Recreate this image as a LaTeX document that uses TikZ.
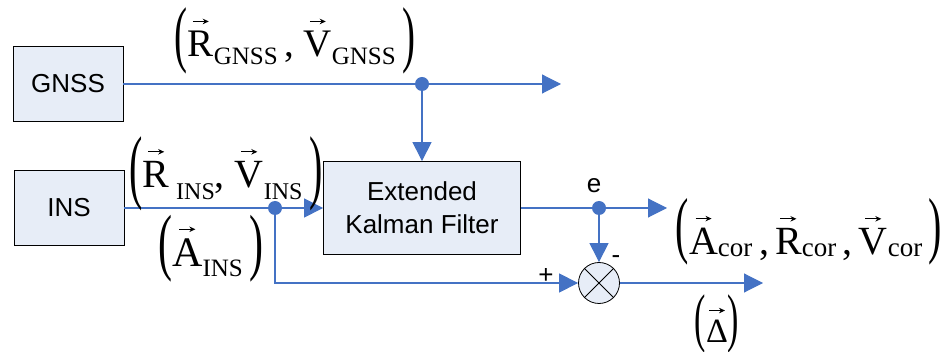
\documentclass[tikz,border=0pt]{standalone}
\usepackage{fontspec}
\usepackage{graphicx}
\setmainfont{Liberation Serif}
\newfontfamily\arialf{Liberation Sans}
\usetikzlibrary{arrows.meta}

\definecolor{flowblue}{HTML}{4472C4}
\definecolor{boxfill}{HTML}{E7EDF7}

% small arrow drawn above a vector letter
\newcommand\vecarrow{\tikz[x=1pt,y=1pt,baseline=0pt]{\draw[line width=1.2pt,black,-{Stealth[length=6pt,width=5.5pt]}] (0,0) -- (16,0);}}
% letter with the vector arrow above it
\newcommand\vecl[1]{\setbox0\hbox{#1}\rlap{\hbox to\wd0{\hss\raisebox{\dimexpr\ht0+10pt\relax}{\vecarrow}\hss}}\box0}
% lowered subscript: size, drop, text
\newcommand\lowsub[3]{\raisebox{-#2}{\fontsize{#1}{#1}\selectfont #3}}
% stretched parenthesis: glyph, vertical scale, raise
\newcommand\tallparen[3]{\raisebox{#3}{\scalebox{1}[#2]{#1}}}

\tikzset{
  blockbox/.style={draw=black, line width=0.8pt, fill=boxfill, inner sep=0pt,
    font=\arialf\fontsize{26}{33}\selectfont, align=center},
  flow/.style={draw=flowblue, line width=1.1pt},
  flowarrow/.style={flow, -{Triangle[length=19pt,width=19pt]}},
  junction/.style={circle, fill=flowblue, inner sep=0pt, minimum size=14pt},
  vlabel/.style={inner sep=0pt, anchor=base},
  signlabel/.style={font=\arialf\fontsize{26}{26}\selectfont, inner sep=0pt, anchor=base},
}

\begin{document}
\begin{tikzpicture}[x=1pt, y=-1pt]
\useasboundingbox (0,0) rectangle (942,352);

% blocks
\node[blockbox, minimum width=110pt, minimum height=75pt] (gnss) at (68,84) {GNSS};
\node[blockbox, minimum width=110pt, minimum height=75pt] (ins) at (69,208) {INS};
\node[blockbox, minimum width=197pt, minimum height=93pt] (ekf) at (422,208) {Extended\\Kalman Filter};
\node[circle, draw=black, line width=0.8pt, fill=boxfill, minimum size=41pt, inner sep=0pt] (sum) at (599,283) {};
\draw[line width=0.8pt] (sum.north west) -- (sum.south east) (sum.north east) -- (sum.south west);

% branch points and free ends
\node[junction] (j1) at (422,84) {};
\node[junction] (j2) at (275,208) {};
\node[junction] (j3) at (599,208) {};
\coordinate (gout) at (561,84);
\coordinate (eout) at (667,208);
\coordinate (sout) at (763,283);

% connectors
\draw[flow] (gnss.east) -- (j1);
\draw[flowarrow] (j1.center) -- (gout);
\draw[flowarrow] (j1.center) -- (ekf.north);
\draw[flow] (ins.east) -- (j2);
\draw[flowarrow] (j2.center) -- (ekf.west);
\draw[flowarrow] (j2.center) |- (sum.west);
\draw[flow] (ekf.east) -- (j3);
\draw[flowarrow] (j3.center) -- (eout);
\draw[flowarrow] (j3.center) -- (sum.north);
\draw[flowarrow] (sum.east) -- (sout);

% signal labels
\node[vlabel, font=\fontsize{39}{40}\selectfont] (gnssvec) at (295,57)
  {\tallparen{(}{1.88}{-2pt}\vecl{R}\lowsub{25}{8pt}{GNSS}\,, \vecl{V}\lowsub{25}{8pt}{GNSS}\,\tallparen{)}{1.88}{-2pt}};
\node[vlabel, font=\fontsize{40}{42}\selectfont] (insvec) at (226,188)
  {\tallparen{(}{2.05}{-6pt}\vecl{R}\,\lowsub{24}{12pt}{INS}, \vecl{V}\lowsub{24}{12pt}{INS}\,\tallparen{)}{2.05}{-6pt}};
\node[vlabel, font=\fontsize{42}{44}\selectfont] (accvec) at (211,267)
  {\tallparen{(}{1.76}{0pt}\vecl{A}\lowsub{25}{10pt}{INS}\,\tallparen{)}{1.76}{0pt}};
\node[vlabel, font=\fontsize{40}{46}\selectfont] (corvec) at (809,255)
  {\tallparen{(}{1.84}{5pt}\vecl{A}\lowsub{27}{2pt}{cor}\,,\hspace{6pt}\vecl{R}\lowsub{27}{2pt}{cor}\,,\hspace{6pt}\vecl{V}\lowsub{27}{2pt}{cor}\,\tallparen{)}{1.84}{5pt}};
\node[vlabel, font=\fontsize{34}{36}\selectfont] (deltavec) at (717,343)
  {\tallparen{(}{1.9}{4pt}\vecl{Δ}\tallparen{)}{1.9}{4pt}};

\node[signlabel] (elbl) at (594,193) {e};
\node[signlabel] (plbl) at (546,284) {+};
\node[signlabel] (mlbl) at (616,264) {-};
\end{tikzpicture}
\end{document}
